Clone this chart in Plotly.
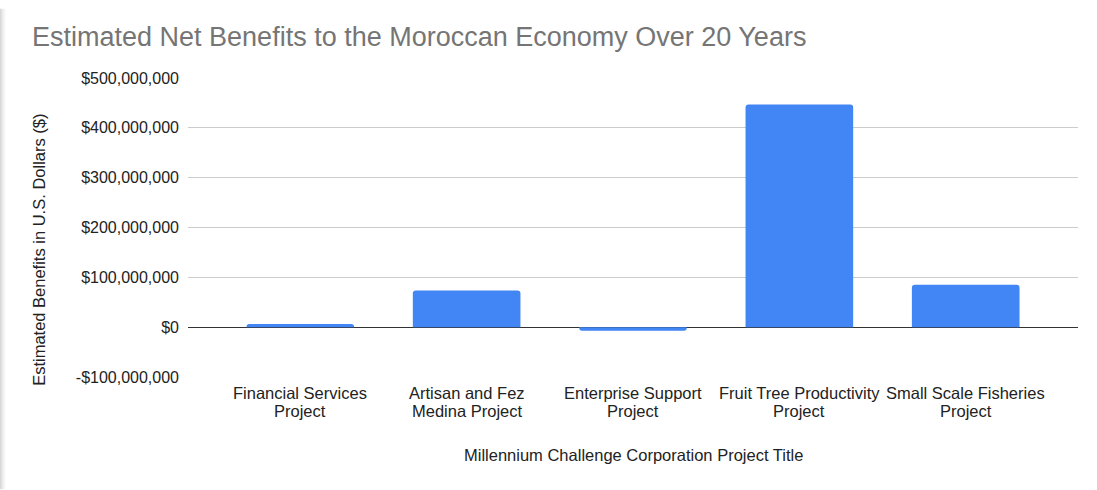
import plotly.graph_objects as go

# Project titles (two lines each) and estimated 20-year net benefits (USD)
project_line1 = [
    "Financial Services",
    "Artisan and Fez",
    "Enterprise Support",
    "Fruit Tree Productivity",
    "Small Scale Fisheries",
]
project_line2 = [
    "Project",
    "Medina Project",
    "Project",
    "Project",
    "Project",
]
net_benefits = [6_500_000, 73_500_000, -7_000_000, 447_000_000, 85_000_000]

tick_values = [-100_000_000, 0, 100_000_000, 200_000_000, 300_000_000, 400_000_000, 500_000_000]
tick_labels = ["-$100,000,000", "$0", "$100,000,000", "$200,000,000",
               "$300,000,000", "$400,000,000", "$500,000,000"]

FONT = "Arial, 'Liberation Sans', sans-serif"
TEXT = "#222222"

W, H = 1097, 490
M_L, M_R, M_T, M_B = 188, 19.3, 77.5, 112.5
PLOT_W = W - M_L - M_R
PLOT_H = H - M_T - M_B


def py(pix):
    """Page pixel row -> paper y."""
    return (H - M_B - pix) / PLOT_H


def px(pix):
    """Page pixel column -> paper x."""
    return (pix - M_L) / PLOT_W


fig = go.Figure(
    go.Bar(
        x=list(range(len(net_benefits))),
        y=net_benefits,
        marker=dict(color="#4285F4", line=dict(width=0)),
        width=0.647,
        hoverinfo="y",
    )
)

# soft shadow along the left edge of the card
shadow = ["#d6d6d6", "#dfdfdf", "#e8e8e8", "#f0f0f0", "#f6f6f6", "#fbfbfb"]
for i, c in enumerate(shadow):
    fig.add_shape(
        type="rect", xref="paper", yref="paper",
        x0=px(i), x1=px(i + 1),
        y0=py(H), y1=py(8),
        fillcolor=c, line=dict(width=0), layer="below",
    )

# category labels, two lines per project
for i, (l1, l2) in enumerate(zip(project_line1, project_line2)):
    for text, row in ((l1, 394), (l2, 412)):
        fig.add_annotation(
            x=i, xref="x", y=py(row), yref="paper",
            text=text, showarrow=False,
            xanchor="center", yanchor="middle",
            font=dict(family=FONT, size=16.5, color=TEXT),
        )

# axis titles
fig.add_annotation(
    x=0.5, xref="paper", y=py(455.5), yref="paper",
    text="Millennium Challenge Corporation Project Title",
    showarrow=False, xanchor="center", yanchor="middle",
    font=dict(family=FONT, size=16.5, color=TEXT),
)
fig.add_annotation(
    x=px(39), xref="paper", y=py(250), yref="paper",
    text="Estimated Benefits in U.S. Dollars ($)",
    showarrow=False, xanchor="center", yanchor="middle", textangle=-90,
    font=dict(family=FONT, size=16.5, color=TEXT),
)

fig.update_layout(
    width=W,
    height=H,
    margin=dict(l=M_L, r=M_R, t=M_T, b=M_B, pad=0),
    paper_bgcolor="white",
    plot_bgcolor="white",
    showlegend=False,
    barcornerradius=3,
    font=dict(family=FONT, size=16, color=TEXT),
    title=dict(
        text="Estimated Net Benefits to the Moroccan Economy Over 20 Years",
        x=32 / W, xanchor="left",
        y=1 - 36.5 / H, yanchor="middle",
        font=dict(family=FONT, size=27, color="#757575"),
    ),
    xaxis=dict(
        range=[-0.675, 4.675],
        showticklabels=False,
        showgrid=False,
        zeroline=False,
        showline=False,
        ticks="",
        fixedrange=True,
    ),
    yaxis=dict(
        range=[-100_000_000, 500_000_000],
        tickmode="array",
        tickvals=tick_values,
        ticktext=tick_labels,
        showgrid=True,
        gridcolor="#cccccc",
        gridwidth=1,
        zeroline=True,
        zerolinecolor="#333333",
        zerolinewidth=1,
        showline=False,
        ticks="",
        ticklabelstandoff=8,
        tickfont=dict(family=FONT, size=16, color=TEXT),
        fixedrange=True,
    ),
)

fig.write_html("out.html")
